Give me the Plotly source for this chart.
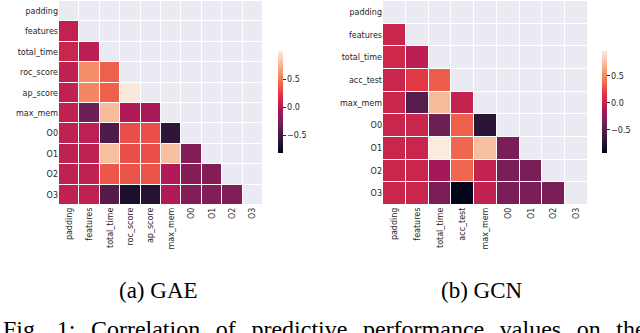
import plotly.graph_objects as go

# variables of each correlation matrix
gae_vars = ["padding", "features", "total_time", "roc_score", "ap_score",
            "max_mem", "O0", "O1", "O2", "O3"]
gcn_vars = ["padding", "features", "total_time", "acc_test", "max_mem",
            "O0", "O1", "O2", "O3"]

# lower triangle (below diagonal), row by row, starting with the 2nd row
gae_features = [0.06]
gae_total_time = [0.1, 0.03]
gae_roc_score = [0.05, 0.58, 0.4]
gae_ap_score = [0.05, 0.55, 0.4, 0.99]
gae_max_mem = [0.05, -0.31, 0.78, -0.02, -0.06]
gae_O0 = [0.05, 0.04, -0.46, 0.33, 0.33, -0.6]
gae_O1 = [0.05, 0.05, 0.8, 0.33, 0.33, 0.8, -0.22]
gae_O2 = [0.05, 0.05, 0.36, 0.35, 0.35, -0.02, -0.22, -0.22]
gae_O3 = [0.05, 0.05, -0.42, -0.69, -0.64, -0.02, -0.22, -0.22, -0.22]

gcn_features = [0.02]
gcn_total_time = [0.05, -0.04]
gcn_acc_test = [0.02, 0.17, 0.32]
gcn_max_mem = [0.02, -0.51, 0.73, 0.0]
gcn_O0 = [0.02, 0.02, -0.4, 0.33, -0.72]
gcn_O1 = [0.02, 0.02, 0.96, 0.36, 0.75, -0.34]
gcn_O2 = [0.02, 0.02, -0.16, 0.36, 0.0, -0.35, -0.35]
gcn_O3 = [0.02, 0.02, -0.34, -0.93, -0.02, -0.35, -0.35, -0.35]

gae_rows = [gae_features, gae_total_time, gae_roc_score, gae_ap_score,
            gae_max_mem, gae_O0, gae_O1, gae_O2, gae_O3]
gcn_rows = [gcn_features, gcn_total_time, gcn_acc_test, gcn_max_mem,
            gcn_O0, gcn_O1, gcn_O2, gcn_O3]

gae_range = (-0.82, 1.0)
gcn_range = (-0.93, 0.96)

caption_words = ["Fig.", "1:", "Correlation", "of", "predictive",
                 "performance", "values", "on", "the"]

rocket = [[0, "#03051a"], [1 / 7, "#35193e"], [2 / 7, "#701f57"],
          [3 / 7, "#ad1759"], [4 / 7, "#e13342"], [5 / 7, "#f37651"],
          [6 / 7, "#f6b48f"], [1, "#faebdd"]]

txt = dict(family="DejaVu Sans", size=8, color="#262626")


def full_matrix(rows, n):
    z = [[None] * n]
    for r in rows:
        z.append(r + [None] * (n - len(r)))
    return z


fig = go.Figure()


def add_panel(names, rows, zr, ax, cb_x):
    n = len(names)
    xa = "x" if ax == 1 else "x%d" % ax
    ya = "y" if ax == 1 else "y%d" % ax
    # masked area background
    fig.add_trace(go.Heatmap(
        x=names, y=names, z=[[1] * n for _ in range(n)],
        colorscale=[[0, "#eaeaf2"], [1, "#eaeaf2"]], showscale=False,
        xgap=1, ygap=1, hoverinfo="skip", xaxis=xa, yaxis=ya))
    fig.add_trace(go.Heatmap(
        x=names, y=names, z=full_matrix(rows, n),
        colorscale=rocket, zmin=zr[0], zmax=zr[1],
        xgap=1, ygap=1, xaxis=xa, yaxis=ya,
        colorbar=dict(x=cb_x, xanchor="left", y=1 - 51 / 333, yanchor="top",
                      len=102 / 333, lenmode="fraction", thickness=5,
                      xpad=0, ypad=0, outlinewidth=0,
                      tickvals=[-0.5, 0, 0.5],
                      ticktext=["\u22120.5", "0.0", "0.5"],
                      ticks="outside", ticklen=3, tickcolor="#262626",
                      tickfont=txt)))


add_panel(gae_vars, gae_rows, gae_range, 1, 278 / 640)
add_panel(gcn_vars, gcn_rows, gcn_range, 2, 602 / 640)

ydom = [1 - 205 / 333, 1 - 1 / 333]
axis_style = dict(showgrid=False, zeroline=False, ticks="", tickfont=txt,
                  showline=False, automargin=False)
fig.update_layout(
    width=640, height=333,
    margin=dict(l=0, r=0, t=0, b=0, autoexpand=False),
    paper_bgcolor="white", plot_bgcolor="white",
    xaxis=dict(domain=[59 / 640, 263 / 640], anchor="y", tickangle=-90,
               **axis_style),
    yaxis=dict(domain=ydom, anchor="x", autorange="reversed", **axis_style),
    xaxis2=dict(domain=[383 / 640, 588 / 640], anchor="y2", tickangle=-90,
                **axis_style),
    yaxis2=dict(domain=ydom, anchor="x2", autorange="reversed",
                **axis_style),
)

cap = dict(family="Liberation Serif", size=23, color="black")
fig.add_annotation(text="(a) GAE", x=158 / 640, y=(333 - 290.5) / 333,
                   xref="paper", yref="paper", showarrow=False,
                   xanchor="center", yanchor="middle", font=cap)
fig.add_annotation(text="(b) GCN", x=482 / 640, y=(333 - 290.5) / 333,
                   xref="paper", yref="paper", showarrow=False,
                   xanchor="center", yanchor="middle", font=cap)
# justified caption line in the paper: wide word gaps
fig.add_annotation(text="\u00a0\u2009\u2009".join(caption_words),
                   x=1 / 640, y=19 / 333, xref="paper", yref="paper",
                   showarrow=False, xanchor="left", yanchor="top",
                   font=dict(family="Liberation Serif", size=24,
                             color="black"))

# page body has a default 8px margin; remove it so the figure fills the window
fig.write_html("out.html", config={"displayModeBar": False},
               post_script="document.body.style.margin='0';")
